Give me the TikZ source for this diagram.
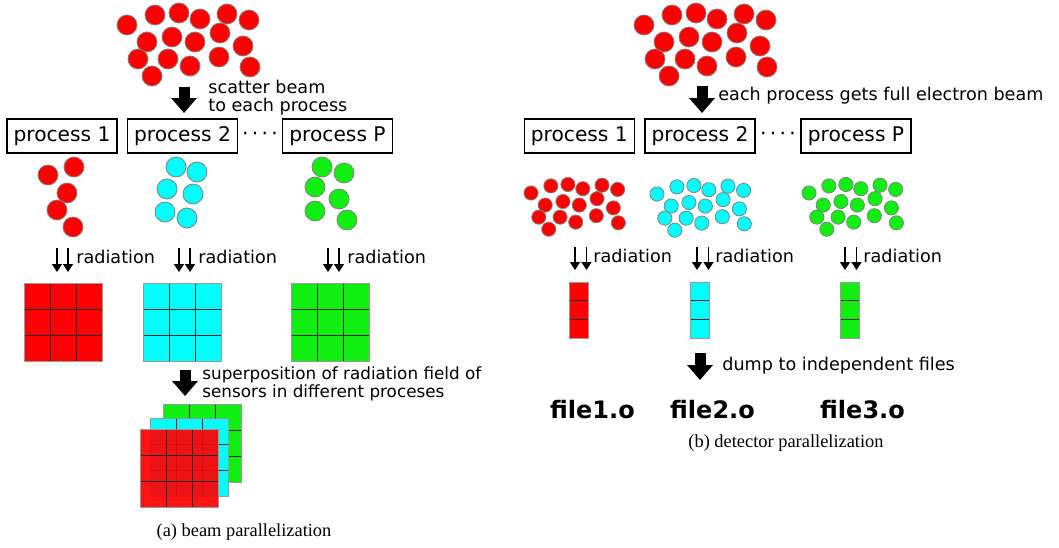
\documentclass[tikz,border=0pt]{standalone}
\usepackage{fontspec}
\setmainfont{DejaVu Sans}
\newfontfamily\capfont{Liberation Serif}
\usepackage{tikz}
\usetikzlibrary{calc,arrows.meta}

\definecolor{eRed}{RGB}{255,0,0}
\definecolor{eCyan}{RGB}{0,255,255}
\definecolor{eGreen}{RGB}{17,238,17}

% electron bunch, first electron at the origin of the scope
\newcommand{\bunch}[1]{%
	\foreach \dx/\dy in {0/0, 28/-10, 52/-12, 73/-6, 100/-11, 122/-5,
		20/17, 45/12, 68/17, 93/8, 116/21,
		11/34, 41/34, 63/41, 92/32, 123/42, 25/51}
	{\draw[El, fill=#1] (\dx,\dy) circle[radius=10];}%
}
% 3x3 sensor, top left corner at (#1,#2)
\newcommand{\sensorsq}[3]{%
	\fill[#3] (#1,#2) rectangle +(78,78);
	\foreach \k in {1,2} {
		\draw[Cell] (#1+26*\k,#2) -- +(0,78);
		\draw[Cell] (#1,#2+26*\k) -- +(78,0);
	}
	\draw[Edge] (#1,#2) rectangle +(78,78);
}
% 1x3 sensor strip
\newcommand{\sensorstrip}[3]{%
	\fill[#3] (#1,#2) rectangle +(19,56.5);
	\foreach \k in {1,2} {
		\draw[Cell] (#1,#2+18.83*\k) -- +(19,0);
	}
	\draw[Edge] (#1,#2) rectangle +(19,56.5);
}

\begin{document}
\begin{tikzpicture}[
x=0.5pt, y=-0.5pt,
El/.style={draw=gray, line width=0.4pt},
Cell/.style={black!85, line width=0.5pt},
Edge/.style={draw=gray!80, line width=0.5pt},
Proc/.style={rectangle, draw, line width=0.65pt, minimum width=55pt,
minimum height=17pt, inner sep=0pt, font=\fontsize{10.1}{11}\selectfont},
Note/.style={anchor=west, align=left, inner sep=0pt, font=\fontsize{8.8}{9}\selectfont},
Rad/.style={-{Triangle[width=5pt,length=4pt]}, line width=0.75pt},
Big/.style={-{Triangle[width=12.5pt,length=7.5pt]}, line width=5.5pt},
File/.style={inner sep=0pt, font=\fontsize{12}{14}\selectfont\bfseries},
Cap/.style={inner sep=0pt, font=\capfont\fontsize{9.2}{11}\selectfont},
Dots/.style={font=\fontsize{10.1}{11}\selectfont},
]
	\useasboundingbox (0,0) rectangle (1059,547);

	%%% (a) beam parallelization
	\begin{scope}[shift={(127,25)}]
		\bunch{eRed}
	\end{scope}
	\node[Note] (Scat) at (208,98) {scatter beam\\to each process};
	\draw[Big] ($ (Scat.west) + (-24,-11) $) -- ++(0,26);

	\node[Proc] (PA1) at (62,136) {process 1};
	\node[Proc] (PA2) at ($ (PA1) + (120.5,0) $) {process 2};
	\node[Proc] (PAP) at ($ (PA2) + (155,0) $) {process P};
	\node[Dots] (DotsA) at ($ (PA2.east)!0.5!(PAP.west) $) {·\,·\,·\,·};

	% electrons of each process
	\foreach \px/\py in {48/175, 74/167, 67/193, 57/210, 73/227}
		{\draw[El, fill=eRed] (\px,\py) circle[radius=10];}
	\foreach \px/\py in {176/167, 197/172, 167/189, 193/194, 165/212, 187/218}
		{\draw[El, fill=eCyan] (\px,\py) circle[radius=10];}
	\foreach \px/\py in {322/167, 344/173, 315/187, 339/199, 315/211, 347/220}
		{\draw[El, fill=eGreen] (\px,\py) circle[radius=10];}

	\node[Note] (RadA1) at (76,257) {radiation};
	\node[Note] (RadA2) at (198,257) {radiation};
	\node[Note] (RadA3) at (347,257) {radiation};
	\foreach \r in {RadA1,RadA2,RadA3} {
		\draw[Rad] ($ (\r.west) + (-19,-9) $) -- ++(0,24);
		\draw[Rad] ($ (\r.west) + (-8,-9) $) -- ++(0,24);
	}

	\sensorsq{24}{283}{eRed}
	\sensorsq{143}{283}{eCyan}
	\sensorsq{291}{283}{eGreen}

	\node[Note, font=\fontsize{8.4}{9}\selectfont] (Sup) at (202,384)
	{superposition of radiation field of\\sensors in different proceses};
	\draw[Big] ($ (Sup.west) + (-17,-14) $) -- ++(0,26);

	% stacked sensors
	\sensorsq{163}{404}{eGreen}
	\sensorsq{150}{418}{eCyan}
	\sensorsq{140}{429}{eRed, fill opacity=0.92}

	\node[Cap] (CapA) at (244,532) {(a) beam parallelization};

	%%% (b) detector parallelization
	\begin{scope}[shift={(644,25)}]
		\bunch{eRed}
	\end{scope}
	\node[Note] (Full) at (718,96) {each process gets full electron beam};
	\draw[Big] ($ (Full.west) + (-16,-10) $) -- ++(0,27);

	\node[Proc] (PB1) at (579.3,136) {process 1};
	\node[Proc] (PB2) at ($ (PB1) + (120.7,0) $) {process 2};
	\node[Proc] (PBP) at ($ (PB2) + (156,0) $) {process P};
	\node[Dots] (DotsB) at ($ (PB2.east)!0.5!(PBP.west) $) {·\,·\,·\,·};

	\begin{scope}[shift={(531,193)}, scale=0.71]
		\bunch{eRed}
	\end{scope}
	\begin{scope}[shift={(657,194)}, scale=0.71]
		\bunch{eCyan}
	\end{scope}
	\begin{scope}[shift={(809,193)}, scale=0.71]
		\bunch{eGreen}
	\end{scope}

	\node[Note] (RadB1) at (593,256) {radiation};
	\node[Note] (RadB2) at (715,256) {radiation};
	\node[Note] (RadB3) at (863,256) {radiation};
	\foreach \r in {RadB1,RadB2,RadB3} {
		\draw[Rad] ($ (\r.west) + (-18,-9) $) -- ++(0,23);
		\draw[Rad] ($ (\r.west) + (-6.5,-9) $) -- ++(0,23);
	}

	\sensorstrip{569.3}{282}{eRed}
	\sensorstrip{690}{282}{eCyan}
	\sensorstrip{840}{282}{eGreen}

	\node[Note] (Dump) at (722,366) {dump to independent files};
	\draw[Big] ($ (Dump.west) + (-22,-13) $) -- ++(0,27);

	\node[File] (F1) at (592.5,410) {file1.o};
	\node[File] (F2) at (712.5,410) {file2.o};
	\node[File] (F3) at (862.5,410) {file3.o};

	\node[Cap] (CapB) at (786,443) {(b) detector parallelization};
\end{tikzpicture}
\end{document}
